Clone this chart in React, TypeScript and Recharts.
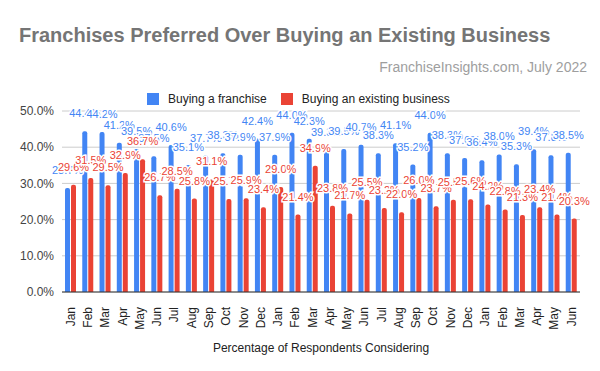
import React from 'react';
import { BarChart, Bar, XAxis, YAxis, CartesianGrid, LabelList } from 'recharts';

const MONTHS = [
  'Jan', 'Feb', 'Mar', 'Apr', 'May', 'Jun', 'Jul', 'Aug', 'Sep', 'Oct', 'Nov', 'Dec',
  'Jan', 'Feb', 'Mar', 'Apr', 'May', 'Jun', 'Jul', 'Aug', 'Sep', 'Oct', 'Nov', 'Dec',
  'Jan', 'Feb', 'Mar', 'Apr', 'May', 'Jun',
];

const FRANCHISE = [
  28.7, 44.4, 44.2, 41.2, 39.5, 37.5, 40.6, 35.1, 37.7, 38.3, 37.9, 42.4,
  37.9, 44.0, 42.3, 39.3, 39.5, 40.7, 38.3, 41.1, 35.2, 44.0, 38.3, 37.0,
  36.4, 38.0, 35.3, 39.4, 37.8, 38.5,
];

const EXISTING = [
  29.6, 31.5, 29.5, 32.9, 36.7, 26.7, 28.5, 25.8, 31.1, 25.7, 25.9, 23.4,
  29.0, 21.4, 34.9, 23.8, 21.7, 25.5, 23.2, 22.0, 26.0, 23.7, 25.5, 25.6,
  24.2, 22.8, 21.3, 23.4, 21.4, 20.3,
];

const Y_TICKS = [0, 10, 20, 30, 40, 50];

const BLUE = '#4285f4';
const RED = '#ea4335';
const FONT = 'Arial, "Liberation Sans", sans-serif';

const data = MONTHS.map((m, i) => ({
  idx: i,
  month: m,
  franchise: FRANCHISE[i],
  existing: EXISTING[i],
}));

function MonthTick(props: any) {
  const { x, y, payload } = props;
  return (
    <text
      transform={`translate(${x},${y + 7}) rotate(-90)`}
      textAnchor="end"
      dy="0.35em"
      fontSize={12}
      fontFamily={FONT}
      fill="#222"
    >
      {MONTHS[payload.value]}
    </text>
  );
}

function valueLabel(color: string) {
  return (props: any) => {
    const { x, y, width, value } = props;
    return (
      <text
        x={Number(x) + Number(width) / 2}
        y={Number(y) - 14}
        textAnchor="middle"
        fontSize={11}
        fontFamily={FONT}
        fill={color}
        stroke="#fff"
        strokeWidth={3}
        paintOrder="stroke"
      >
        {Number(value).toFixed(1)}%
      </text>
    );
  };
}

function LegendItem({ color, text }: { color: string; text: string }) {
  return (
    <div style={{ display: 'flex', alignItems: 'center', marginRight: 14 }}>
      <div style={{ width: 12, height: 12, background: color, marginRight: 9 }} />
      <span>{text}</span>
    </div>
  );
}

export default function App() {
  return (
    <div
      style={{
        position: 'absolute',
        left: 0,
        top: 0,
        width: 600,
        height: 371,
        background: '#fff',
        fontFamily: FONT,
      }}
    >
      <div
        style={{
          position: 'absolute',
          left: 19,
          top: 25,
          fontSize: 20,
          lineHeight: '20px',
          fontWeight: 'bold',
          color: '#757575',
          whiteSpace: 'nowrap',
        }}
      >
        Franchises Preferred Over Buying an Existing Business
      </div>
      <div
        style={{
          position: 'absolute',
          right: 13,
          top: 60,
          fontSize: 14,
          lineHeight: '14px',
          color: '#9e9e9e',
          whiteSpace: 'nowrap',
        }}
      >
        FranchiseInsights.com, July 2022
      </div>
      <div
        style={{
          position: 'absolute',
          left: 147,
          top: 93,
          display: 'flex',
          fontSize: 12,
          lineHeight: '12px',
          color: '#222',
          whiteSpace: 'nowrap',
        }}
      >
        <LegendItem color={BLUE} text="Buying a franchise" />
        <LegendItem color={RED} text="Buying an existing business" />
      </div>
      <div style={{ position: 'absolute', left: 0, top: 0 }}>
        <BarChart
          width={600}
          height={371}
          data={data}
          margin={{ top: 111, right: 20, left: 0, bottom: 0 }}
          barSize={5}
          barGap={1}
        >
          <CartesianGrid vertical={false} stroke="#ccc" />
          <XAxis
            dataKey="idx"
            interval={0}
            height={79}
            tick={<MonthTick />}
            tickLine={false}
            axisLine={{ stroke: '#333' }}
            label={{
              value: 'Percentage of Respondents Considering',
              position: 'insideBottom',
              offset: 19,
              fill: '#222',
              fontSize: 12,
              fontFamily: FONT,
            }}
          />
          <YAxis
            width={62}
            domain={[0, 50]}
            ticks={Y_TICKS}
            tickFormatter={(v: number) => `${v.toFixed(1)}%`}
            tickLine={false}
            axisLine={false}
            tick={{ fill: '#444', fontSize: 12, fontFamily: FONT }}
          />
          <Bar dataKey="franchise" fill={BLUE} radius={[2, 2, 0, 0]} isAnimationActive={false}>
            <LabelList dataKey="franchise" content={valueLabel(BLUE)} />
          </Bar>
          <Bar dataKey="existing" fill={RED} radius={[2, 2, 0, 0]} isAnimationActive={false}>
            <LabelList dataKey="existing" content={valueLabel(RED)} />
          </Bar>
        </BarChart>
      </div>
    </div>
  );
}
